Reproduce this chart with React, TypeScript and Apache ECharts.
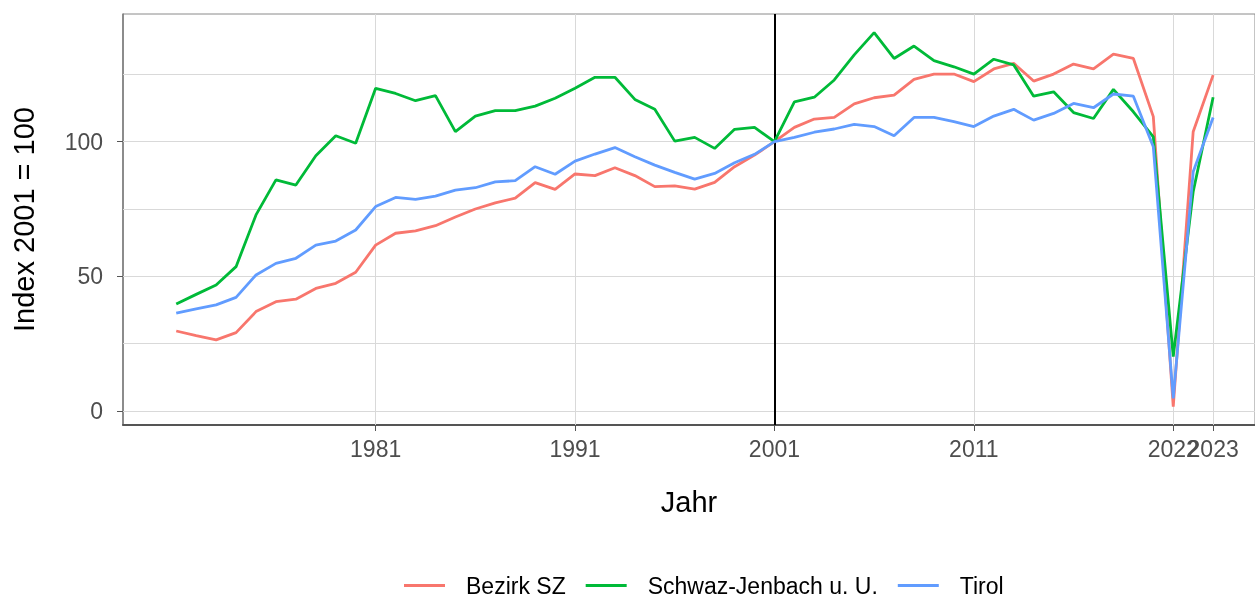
import React, { useEffect, useRef } from "react";
import * as echarts from "echarts";

const years = [
  1971, 1972, 1973, 1974, 1975, 1976, 1977, 1978, 1979, 1980,
  1981, 1982, 1983, 1984, 1985, 1986, 1987, 1988, 1989, 1990,
  1991, 1992, 1993, 1994, 1995, 1996, 1997, 1998, 1999, 2000,
  2001, 2002, 2003, 2004, 2005, 2006, 2007, 2008, 2009, 2010,
  2011, 2012, 2013, 2014, 2015, 2016, 2017, 2018, 2019, 2020,
  2021, 2022, 2023,
];

const bezirkSZ = [
  29.7, 28.0, 26.4, 29.1, 36.9, 40.6, 41.5, 45.5, 47.4, 51.5,
  61.6, 66.0, 66.9, 68.8, 72.0, 75.0, 77.3, 79.0, 84.8, 82.3,
  88.0, 87.4, 90.3, 87.4, 83.3, 83.6, 82.4, 84.9, 90.7, 95.0,
  100, 105.3, 108.4, 109.0, 114.0, 116.3, 117.3, 123.1, 125.1, 125.1,
  122.3, 127.0, 129.1, 122.5, 125.1, 128.8, 127.0, 132.5, 130.9, 109.3,
  1.6, 103.7, 124.7,
];

const schwazJenbach = [
  39.7, 43.3, 46.8, 53.6, 72.8, 85.8, 83.9, 94.8, 102.2, 99.4,
  119.8, 117.9, 115.2, 117.1, 103.7, 109.5, 111.5, 111.5, 113.2, 116.1,
  119.8, 123.9, 123.9, 115.7, 112.0, 100.2, 101.6, 97.5, 104.6, 105.3,
  100, 114.8, 116.5, 122.9, 132.2, 140.5, 130.9, 135.5, 130.1, 127.8,
  125.1, 130.6, 128.5, 116.9, 118.5, 110.8, 108.6, 119.4, 111.1, 101.8,
  20.2, 81.4, 116.5,
];

const tirol = [
  36.3, 37.9, 39.4, 42.2, 50.5, 54.8, 56.7, 61.6, 63.1, 67.2,
  75.9, 79.3, 78.6, 79.8, 82.0, 82.9, 85.1, 85.5, 90.7, 87.9,
  92.8, 95.4, 97.8, 94.4, 91.3, 88.6, 86.1, 88.2, 92.2, 95.3,
  100, 101.6, 103.5, 104.7, 106.4, 105.6, 102.2, 109.0, 109.0, 107.4,
  105.6, 109.5, 112.0, 108.0, 110.5, 114.2, 112.6, 117.7, 116.9, 98.1,
  4.7, 88.8, 109.0,
];

const seriesNames = ["Bezirk SZ", "Schwaz-Jenbach u. U.", "Tirol"];
const seriesColors = ["#F8766D", "#00BA38", "#619CFF"];

// main tick set and the crowded tick that is labelled on a second axis layer
const xTickValues = [1981, 1991, 2001, 2011, 2023];
const xTickLabels = ["1981", "1991", "2001", "2011", "2023"];
const xExtraTickValues = [2021];
const xExtraTickLabels = ["2022"];
const xGridValues = [1981, 1991, 2011, 2021, 2023];
const referenceYear = 2001;
const yTickValues = [0, 50, 100];
const yGridValues = [0, 25, 50, 75, 100, 125];

const FONT = "'Liberation Sans', Arial, sans-serif";
const X_MIN = 1968.33;
const X_MAX = 2025.1;

export default function App() {
  const ref = useRef<HTMLDivElement>(null);

  useEffect(() => {
    if (!ref.current) return;
    const chart = echarts.init(ref.current, null, { renderer: "svg" });

    const pairs = (vals: number[]) => years.map((y, i) => [y, vals[i]]);
    const allValues = [bezirkSZ, schwazJenbach, tirol];

    const gridLines: any[] = [
      ...yGridValues.map((v) => ({
        yAxis: v,
        lineStyle: { color: "#D9D9D9", width: 1, type: "solid" },
      })),
      ...xGridValues.map((v) => ({
        xAxis: v,
        lineStyle: { color: "#D9D9D9", width: 1, type: "solid" },
      })),
      {
        xAxis: referenceYear,
        lineStyle: { color: "#000000", width: 2, type: "solid" },
      },
    ];

    const labelStyle = {
      color: "#4D4D4D",
      fontSize: 23,
      margin: 12,
      fontFamily: FONT,
      showMinLabel: true,
      showMaxLabel: true,
      hideOverlap: false,
    };

    chart.setOption({
      animation: false,
      textStyle: { fontFamily: FONT },
      grid: {
        left: 123,
        right: 0,
        top: 14,
        bottom: 172,
        show: true,
        borderColor: "#8A8A8A",
        borderWidth: 1,
        backgroundColor: "#FFFFFF",
        containLabel: false,
        outerBoundsMode: "none",
      },
      legend: {
        data: seriesNames,
        left: 404,
        top: 574,
        padding: 0,
        itemWidth: 41,
        itemHeight: 3,
        itemGap: 20,
        icon: "rect",
        textStyle: {
          fontFamily: FONT,
          fontSize: 23,
          color: "#000000",
          padding: [0, 0, 0, 16],
        },
      },
      xAxis: [
        {
          type: "value",
          min: X_MIN,
          max: X_MAX,
          splitLine: { show: false },
          axisLine: {
            show: true,
            onZero: false,
            lineStyle: { color: "#555555", width: 2 },
          },
          axisTick: {
            show: true,
            customValues: xTickValues,
            length: 6,
            lineStyle: { color: "#555555", width: 1 },
          },
          axisLabel: {
            ...labelStyle,
            customValues: xTickValues,
            formatter: (v: number) => {
              const i = xTickValues.indexOf(v);
              return i >= 0 ? xTickLabels[i] : "";
            },
          },
          name: "Jahr",
          nameLocation: "middle",
          nameGap: 62,
          nameTextStyle: { color: "#000000", fontSize: 29, fontFamily: FONT },
        },
        {
          type: "value",
          position: "bottom",
          min: X_MIN,
          max: X_MAX,
          splitLine: { show: false },
          axisLine: { show: false, onZero: false },
          axisTick: {
            show: true,
            customValues: xExtraTickValues,
            length: 6,
            lineStyle: { color: "#555555", width: 1 },
          },
          axisLabel: {
            ...labelStyle,
            customValues: xExtraTickValues,
            formatter: (v: number) => {
              const i = xExtraTickValues.indexOf(v);
              return i >= 0 ? xExtraTickLabels[i] : "";
            },
          },
        },
      ],
      yAxis: {
        type: "value",
        min: -5.2,
        max: 147.4,
        splitLine: { show: false },
        axisLine: {
          show: true,
          onZero: false,
          lineStyle: { color: "#7A7A7A", width: 1.5 },
        },
        axisTick: {
          show: true,
          customValues: yTickValues,
          length: 6,
          lineStyle: { color: "#555555", width: 1 },
        },
        axisLabel: {
          customValues: yTickValues,
          color: "#4D4D4D",
          fontSize: 23,
          margin: 20,
          fontFamily: FONT,
        },
        name: "Index 2001 = 100",
        nameLocation: "middle",
        nameRotate: 90,
        nameGap: 85,
        nameTextStyle: { color: "#000000", fontSize: 29, fontFamily: FONT },
      },
      series: [
        {
          name: "_grid",
          type: "line",
          xAxisIndex: 0,
          data: [],
          silent: true,
          z: 1,
          markLine: {
            silent: true,
            z: 1,
            symbol: ["none", "none"],
            label: { show: false },
            data: gridLines,
          },
        },
        ...seriesNames.map((name, i) => ({
          name,
          type: "line",
          xAxisIndex: 0,
          data: pairs(allValues[i]),
          showSymbol: false,
          symbol: "none",
          z: 3,
          lineStyle: { color: seriesColors[i], width: 2.8 },
          itemStyle: { color: seriesColors[i] },
        })),
      ],
    });

    return () => chart.dispose();
  }, []);

  return (
    <div
      ref={ref}
      style={{ position: "fixed", left: 0, top: 0, width: 1255, height: 597 }}
    />
  );
}
